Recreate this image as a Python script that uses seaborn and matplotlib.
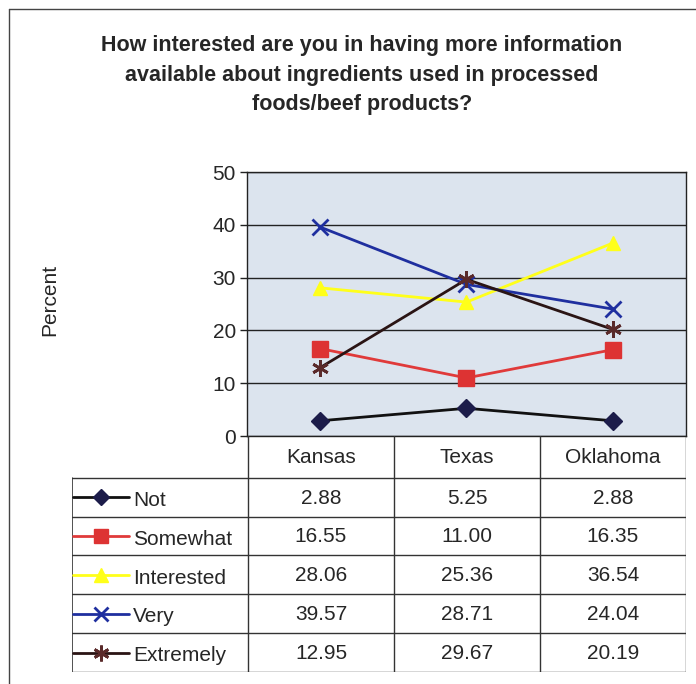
import matplotlib.pyplot as plt
import matplotlib.lines as mlines
import seaborn as sns
import numpy as np

states = ['Kansas', 'Texas', 'Oklahoma']
levels = ['Not', 'Somewhat', 'Interested', 'Very', 'Extremely']
not_pct = [2.88, 5.25, 2.88]
somewhat_pct = [16.55, 11.00, 16.35]
interested_pct = [28.06, 25.36, 36.54]
very_pct = [39.57, 28.71, 24.04]
extremely_pct = [12.95, 29.67, 20.19]
series = [not_pct, somewhat_pct, interested_pct, very_pct, extremely_pct]

# Estilos das séries (estilo Excel)
line_colors = ['#111111', '#e03a3a', '#ffff1a', '#1f2f9f', '#2a1414']
face_colors = ['#1c1c4a', '#dd3333', '#ffff1a', '#1f2f9f', '#5a2a2a']
marker_list = ['D', 's', '^', 'x', (6, 2, 0)]
marker_sizes = [9, 11, 10, 11, 12]

sns.set_style('white')
plt.rcParams['font.family'] = ['Liberation Sans', 'DejaVu Sans']

fig = plt.figure(figsize=(6.96, 6.84), dpi=100)
W, H = 696, 684

# Área do gráfico
ax = fig.add_axes([247 / W, 1 - 436 / H, (686 - 247) / W, (436 - 172) / H])
ax.set_facecolor('#dce4ee')
xpos = np.arange(len(states))
for vals, lc, fc, mk, ms in zip(series, line_colors, face_colors, marker_list, marker_sizes):
    sns.lineplot(x=xpos, y=vals, ax=ax, color=lc, lw=2, marker=mk, markersize=ms,
                 mfc=fc, mec=fc if mk != 'x' else lc, mew=2 if mk in ('x', (6, 2, 0)) else 1)
ax.set_xlim(-0.5, len(states) - 0.5)
ax.set_ylim(0, 50)
ax.set_yticks(range(0, 51, 10))
ax.set_xticks([])
ax.yaxis.grid(True, color='#222222', lw=1)
ax.set_axisbelow(True)
ax.tick_params(axis='y', labelsize=15, length=5, width=1, color='#222222', left=True, pad=3)
for s in ax.spines.values():
    s.set_color('#222222')
    s.set_linewidth(1)
ax.set_xlabel('')
ax.set_ylabel('')

fig.text(50 / W, 1 - 300 / H, 'Percent', rotation=90, fontsize=15, ha='center', va='center')

fig.text(362 / W, 1 - 75 / H,
         'How interested are you in having more information\n'
         'available about ingredients used in processed\n'
         'foods/beef products?',
         ha='center', va='center', fontsize=15.5, fontweight='bold', linespacing=1.55)

# Tabela de dados (linha de cabeçalho um pouco mais alta)
hdr = 42 / 39
n = len(levels)
tab = fig.add_axes([72 / W, 1 - 672 / H, (686 - 72) / W, (672 - 436) / H])
tab.set_xlim(2.5 - (686 - 72) / 146, 2.5)
tab.set_ylim(hdr + n, 0)
tab.axis('off')
x0 = tab.get_xlim()[0]
lc_tab = '#333333'
for xb in np.arange(len(states) + 1) - 0.5:
    tab.plot([xb, xb], [0, hdr + n], color=lc_tab, lw=1)
tab.plot([x0, x0], [hdr, hdr + n], color=lc_tab, lw=1.2)
for yb in range(n + 1):
    tab.plot([x0, 2.5], [hdr + yb, hdr + yb], color=lc_tab, lw=1)
for j, st in enumerate(states):
    tab.text(j, hdr / 2 + 0.02, st, ha='center', va='center', fontsize=15)
for i, (lev, vals) in enumerate(zip(levels, series)):
    y = hdr + i + 0.5
    for j, v in enumerate(vals):
        tab.text(j, y + 0.02, f'{v:.2f}', ha='center', va='center', fontsize=15)
    tab.add_line(mlines.Line2D([x0 + 0.01, x0 + 0.2, x0 + 0.39], [y, y, y], color=line_colors[i], lw=2,
                               marker=marker_list[i], markevery=[1], markersize=marker_sizes[i] * 0.95,
                               mfc=face_colors[i],
                               mec=face_colors[i] if marker_list[i] != 'x' else line_colors[i],
                               mew=2 if marker_list[i] in ('x', (6, 2, 0)) else 1))
    tab.text(x0 + 0.42, y + 0.08, lev, ha='left', va='center', fontsize=15)

# Borda externa do gráfico
fig.add_artist(mlines.Line2D([9 / W, 9 / W], [0, 1 - 9 / H], transform=fig.transFigure, color='#444444', lw=1))
fig.add_artist(mlines.Line2D([9 / W, 1], [1 - 9 / H, 1 - 9 / H], transform=fig.transFigure, color='#444444', lw=1))

fig.savefig('out.png', dpi=100)
